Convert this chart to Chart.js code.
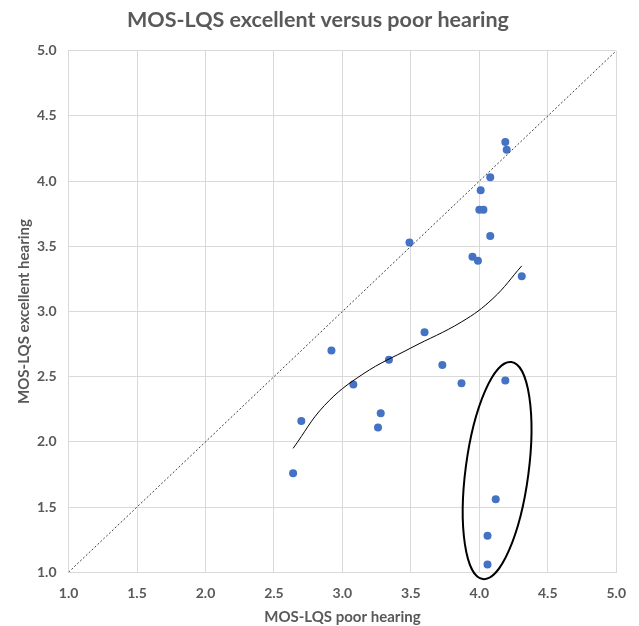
<!DOCTYPE html>
<html>
<head>
<meta charset="utf-8">
<title>MOS-LQS excellent versus poor hearing</title>
<script src="https://cdn.jsdelivr.net/npm/chart.js@4.4.1/dist/chart.umd.min.js"></script>
<style>
  html, body { margin: 0; padding: 0; background: #fff; }
  #wrap { width: 639px; height: 626px; }
</style>
</head>
<body>
<div id="wrap"><canvas id="chart" width="639" height="626"></canvas></div>
<script>
// scatter points (poor hearing -> excellent hearing)
const poorHearing = [2.64, 2.70, 2.92, 3.08, 3.26, 3.28, 3.34, 3.49, 3.60, 3.73, 3.87, 3.95, 3.99, 4.00, 4.03, 4.01, 4.06, 4.06, 4.08, 4.08, 4.12, 4.19, 4.20, 4.19, 4.31];
const excellentHearing = [1.76, 2.16, 2.70, 2.44, 2.11, 2.22, 2.63, 3.53, 2.84, 2.59, 2.45, 3.42, 3.39, 3.78, 3.78, 3.93, 1.28, 1.06, 4.03, 3.58, 1.56, 4.30, 4.24, 2.47, 3.27];

// trend curve
const trendX = [2.64, 2.87, 3.15, 3.50, 3.87, 4.10, 4.31];
const trendY = [1.95, 2.28, 2.52, 2.72, 2.92, 3.10, 3.35];

// y = x reference line
const diagX = [1, 5];
const diagY = [1, 5];

const axisMin = 1;
const axisMax = 5;
const tickStep = 0.5;

const grey = '#595959';
const font = 'Lato, "Liberation Sans", sans-serif';

function toPoints(xs, ys) {
  return xs.map(function (x, i) { return { x: x, y: ys[i] }; });
}

// hand-drawn ellipse around the low outliers (data units)
const ellipsePlugin = {
  id: 'outlierEllipse',
  afterDatasetsDraw: function (chart, args, opts) {
    const xs = chart.scales.x, ys = chart.scales.y;
    const cx = xs.getPixelForValue(opts.cx);
    const cy = ys.getPixelForValue(opts.cy);
    const rx = Math.abs(xs.getPixelForValue(opts.cx + opts.rx) - cx);
    const ry = Math.abs(ys.getPixelForValue(opts.cy + opts.ry) - cy);
    const ctx = chart.ctx;
    ctx.save();
    ctx.beginPath();
    ctx.ellipse(cx, cy, rx, ry, opts.rotation * Math.PI / 180, 0, Math.PI * 2);
    ctx.lineWidth = 2;
    ctx.strokeStyle = '#000';
    ctx.stroke();
    ctx.restore();
  }
};

const ctx = document.getElementById('chart').getContext('2d');
new Chart(ctx, {
  type: 'scatter',
  data: {
    datasets: [
      {
        label: 'diagonal',
        data: toPoints(diagX, diagY),
        showLine: true,
        borderColor: '#404040',
        borderWidth: 1,
        borderDash: [2, 2],
        pointRadius: 0
      },
      {
        label: 'trend',
        data: toPoints(trendX, trendY),
        showLine: true,
        borderColor: '#000',
        borderWidth: 1,
        tension: 0.4,
        pointRadius: 0
      },
      {
        label: 'MOS-LQS',
        data: toPoints(poorHearing, excellentHearing),
        backgroundColor: '#4472C4',
        borderColor: '#4472C4',
        pointRadius: 4,
        pointBorderWidth: 0
      }
    ]
  },
  options: {
    responsive: false,
    devicePixelRatio: 1,
    animation: false,
    layout: { padding: { left: 15, right: 18, top: 3, bottom: 0 } },
    plugins: {
      legend: { display: false },
      tooltip: { enabled: false },
      title: {
        display: true,
        text: 'MOS-LQS excellent versus poor hearing',
        color: grey,
        font: { family: font, size: 21.5, weight: 'bold' },
        padding: { top: 4, bottom: 18 }
      },
      outlierEllipse: { cx: 4.13, cy: 1.78, rx: 0.23, ry: 0.84, rotation: 7.5 }
    },
    scales: {
      x: {
        type: 'linear',
        min: axisMin,
        max: axisMax,
        grid: { color: '#d9d9d9', drawTicks: false },
        border: { color: '#d9d9d9' },
        ticks: {
          stepSize: tickStep,
          padding: 13,
          color: grey,
          font: { family: font, size: 14, weight: 'bold' },
          callback: function (v) { return v.toFixed(1); }
        },
        title: {
          display: true,
          text: 'MOS-LQS poor hearing',
          color: grey,
          font: { family: font, size: 15, weight: 'bold' },
          padding: { top: -7, bottom: 0 }
        }
      },
      y: {
        type: 'linear',
        min: axisMin,
        max: axisMax,
        grid: { color: '#d9d9d9', drawTicks: false },
        border: { color: '#d9d9d9' },
        ticks: {
          stepSize: tickStep,
          padding: 12,
          color: grey,
          font: { family: font, size: 14, weight: 'bold' },
          callback: function (v) { return v.toFixed(1); }
        },
        title: {
          display: true,
          text: 'MOS-LQS excellent hearing',
          color: grey,
          font: { family: font, size: 15, weight: 'bold' },
          padding: { top: 0, bottom: -8 }
        }
      }
    }
  },
  plugins: [ellipsePlugin]
});
</script>
</body>
</html>
